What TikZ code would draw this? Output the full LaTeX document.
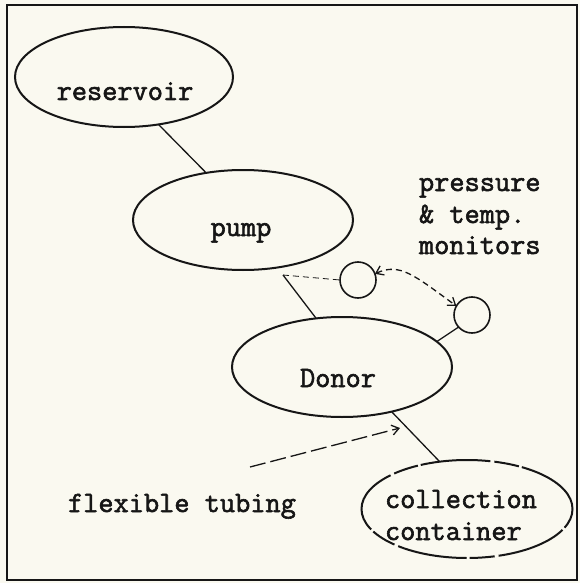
\documentclass[tikz,border=0pt]{standalone}
\usepackage{fontspec}
\newfontfamily\tw[FakeBold=2]{Latin Modern Mono}
\usetikzlibrary{shapes.geometric,arrows.meta}
\definecolor{paper}{RGB}{250,249,240}
\definecolor{ink}{RGB}{22,22,22}
\tikzset{
  blob/.style={ellipse, draw=ink, line width=2pt, inner sep=0pt, outer sep=0pt},
  gauge/.style={circle, draw=ink, line width=1.6pt, inner sep=0pt, outer sep=0pt, minimum size=36pt},
  lbl/.style={inner sep=0pt, outer sep=0pt, font=\tw\fontsize{29.5}{33}\selectfont, text=ink},
  wire/.style={draw=ink, line width=1.3pt},
  barb/.tip={Straight Barb[length=7pt,width=10pt,line width=1.3pt]},
}
\begin{document}
\begin{tikzpicture}[x=1pt,y=-1pt]
\useasboundingbox (0,0) rectangle (580,583);
\fill[paper] (0,0) rectangle (580,583);
% frame
\draw[ink, line width=1.8pt] (7,5) -- (577,5) -- (577,580) -- (7,580) -- cycle;

% ellipses
\node[blob, minimum width=218pt, minimum height=100pt] (res) at (124,77) {};
\node[blob, minimum width=220pt, minimum height=100pt] (pump) at (243,220) {};
\node[blob, minimum width=220pt, minimum height=100pt] (donor) at (342,367) {};
\node[blob, minimum width=211pt, minimum height=98pt, dash pattern=on 70pt off 3pt on 25pt off 4pt] (coll) at (467,509) {};

% monitors
\node[gauge] (c1) at (358,280) {};
\node[gauge] (c2) at (472,315) {};

% labels
\node[lbl, anchor=base] (tres) at (125,100) {reservoir};
\node[lbl, anchor=base] (tpump) at (241,236) {pump};
\node[lbl, anchor=base] (tdonor) at (338,387) {Donor};
\node[lbl, anchor=base west] (tcoll1) at (385,508) {collection};
\node[lbl, anchor=base west] (tcoll2) at (385,540) {container};
\node[lbl, anchor=base west] (tmon1) at (419,191) {pressure};
\node[lbl, anchor=base west] (tmon2) at (419,223) {\& temp.};
\node[lbl, anchor=base west] (tmon3) at (419,254) {monitors};
\node[lbl, anchor=base west] (tflex) at (68,512) {flexible tubing};

% connectors
\coordinate (j) at (283,275);
\coordinate (ft1) at (250,467);
\coordinate (ft2) at (400,428);
\draw[wire] (res.-54) -- (pump.128);
\draw[wire] (j) -- (donor.118);
\draw[ink, line width=0.8pt, dash pattern=on 6pt off 4pt] (j) -- (c1.west);
\draw[wire, dash pattern=on 6pt off 4pt, barb-barb]
  (c1.20) .. controls (400,262) and (415,276) .. (c2.150);
\draw[wire] (c2.222) -- (donor.15);
\draw[wire] (donor.-42) -- (coll.120);
\draw[wire, -barb, dash pattern=on 16pt off 5pt] (ft1) -- (ft2);
\end{tikzpicture}
\end{document}
